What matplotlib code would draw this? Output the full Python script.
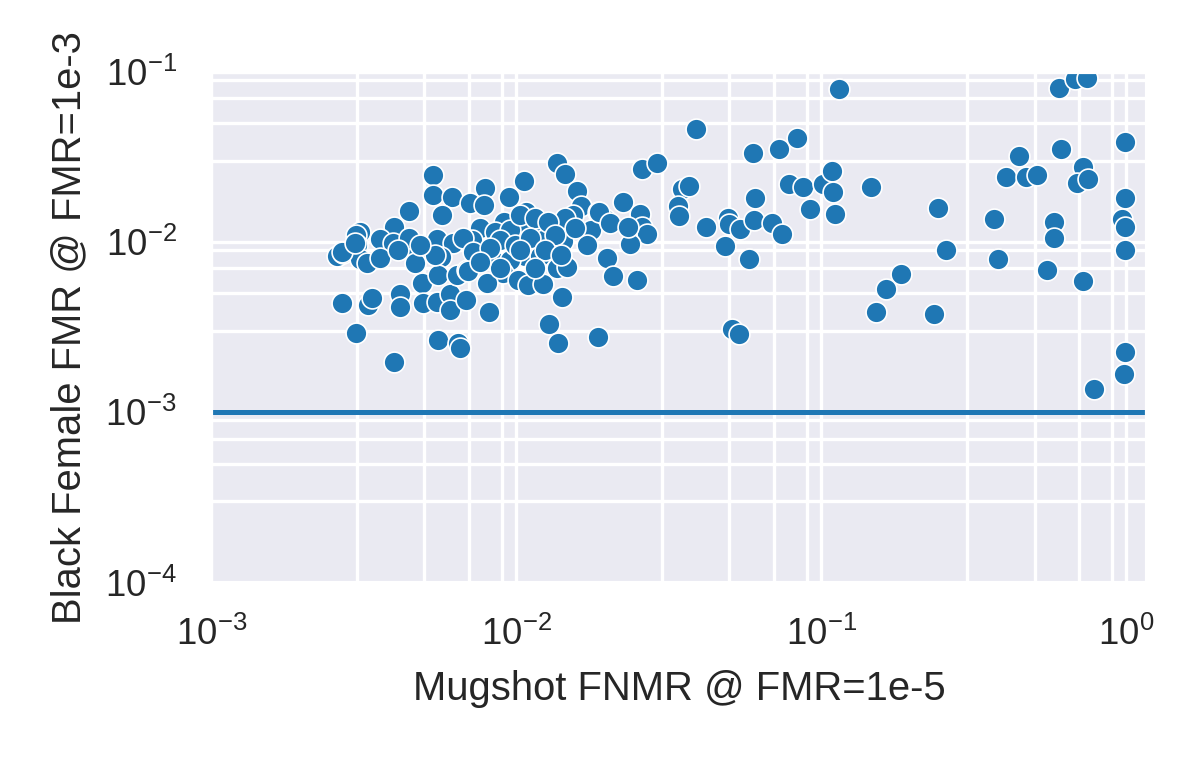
import numpy as np
import matplotlib
matplotlib.use("Agg")
import matplotlib.pyplot as plt
from matplotlib.ticker import LogLocator, NullFormatter
import seaborn as sns

# mugshot FNMR @ FMR=1e-5 (x) and black female FMR @ FMR=1e-3 (y), one entry per algorithm
fnmr_mugshot = [
    2.59e-3, 2.71e-3, 2.69e-3, 2.99e-3, 3.98e-3, 3.27e-3, 3.37e-3, 4.17e-3, 4.17e-3, 4.92e-3,
    4.95e-3, 5.51e-3, 5.55e-3, 6.45e-3, 6.55e-3, 6.08e-3, 6.08e-3, 6.86e-3, 5.35e-3, 5.35e-3,
    6.17e-3, 4.46e-3, 5.72e-3, 3.98e-3, 3.08e-3, 2.99e-3, 3.58e-3, 3.95e-3, 3.01e-3, 3.08e-3,
    3.25e-3, 3.58e-3, 4.67e-3, 4.67e-3, 5.51e-3, 6.21e-3, 5.68e-3, 4.46e-3, 6.90e-3, 5.55e-3,
    6.41e-3, 6.90e-3, 2.69e-3, 2.96e-3, 5.42e-3, 4.84e-3, 4.10e-3,
    1.36e-2, 1.45e-2, 1.06e-2, 7.91e-3, 9.48e-3, 1.58e-2, 1.63e-2, 7.06e-3, 7.85e-3, 1.86e-2,
    1.96e-2, 1.08e-2, 1.54e-2, 1.45e-2, 9.14e-3, 7.62e-3, 1.10e-2, 1.24e-2, 1.76e-2, 8.53e-3,
    9.55e-3, 7.18e-3, 1.42e-2, 1.71e-2, 1.22e-2, 6.70e-3, 7.23e-3, 8.41e-3, 1.07e-2, 1.20e-2,
    9.55e-3, 1.36e-2, 1.47e-2, 1.99e-2, 2.07e-2, 6.96e-3, 9.06e-3, 1.01e-2, 1.09e-2, 1.22e-2,
    8.04e-3, 1.41e-2, 8.15e-3, 1.28e-2, 1.37e-2, 1.86e-2,
    1.03e-2, 1.15e-2, 1.27e-2, 8.87e-3, 9.93e-3, 1.11e-2, 1.34e-2, 1.56e-2, 8.22e-3, 1.03e-2,
    1.24e-2, 8.87e-3, 1.15e-2, 7.62e-3, 1.40e-2,
    2.23e-2, 1.87e-2, 2.03e-2, 2.55e-2, 2.59e-2, 2.69e-2, 2.36e-2, 2.33e-2, 2.49e-2, 2.59e-2,
    2.90e-2, 3.89e-2, 3.50e-2, 3.69e-2, 3.40e-2, 3.42e-2, 4.20e-2, 4.95e-2, 4.99e-2, 5.42e-2,
    6.03e-2, 6.90e-2, 7.45e-2, 4.84e-2, 5.81e-2, 6.08e-2, 5.11e-2, 5.38e-2, 5.98e-2, 7.28e-2,
    8.34e-2, 7.85e-2, 8.73e-2, 9.20e-2, 0.1016, 0.108, 0.109, 0.111, 0.114,
    0.603, 0.681, 0.745, 0.993, 0.612, 0.443, 0.404, 0.470, 0.511, 0.718,
    0.690, 0.750, 0.146, 0.993, 0.242, 0.369, 0.581, 0.577, 0.964, 0.993,
    0.993, 0.257, 0.378, 0.551, 0.723, 0.182, 0.163, 0.151, 0.234, 0.993,
    0.984, 0.785,
]
fmr_black_female = [
    8.32e-3, 8.65e-3, 4.40e-3, 2.93e-3, 1.98e-3, 4.28e-3, 4.71e-3, 4.97e-3, 4.17e-3, 5.77e-3,
    4.40e-3, 4.46e-3, 2.67e-3, 2.56e-3, 2.39e-3, 4.97e-3, 4.00e-3, 4.58e-3, 2.48e-2, 1.90e-2,
    1.85e-2, 1.53e-2, 1.45e-2, 1.23e-2, 1.15e-2, 1.10e-2, 1.04e-2, 9.91e-3, 9.64e-3, 7.98e-3,
    7.55e-3, 8.09e-3, 8.65e-3, 7.55e-3, 1.04e-2, 9.91e-3, 8.20e-3, 1.06e-2, 1.03e-2, 6.43e-3,
    6.43e-3, 6.87e-3, 8.77e-3, 9.91e-3, 8.41e-3, 9.64e-3, 9.02e-3,
    2.92e-2, 2.52e-2, 2.29e-2, 2.08e-2, 1.85e-2, 2.00e-2, 1.63e-2, 1.70e-2, 1.66e-2, 1.51e-2,
    1.37e-2, 1.51e-2, 1.45e-2, 1.39e-2, 1.32e-2, 1.21e-2, 1.25e-2, 1.18e-2, 1.18e-2, 1.15e-2,
    1.18e-2, 1.03e-2, 1.02e-2, 9.64e-3, 1.03e-2, 1.06e-2, 8.77e-3, 7.87e-3, 8.32e-3, 8.32e-3,
    7.87e-3, 7.06e-3, 7.16e-3, 8.09e-3, 6.34e-3, 6.78e-3, 6.61e-3, 6.01e-3, 5.61e-3, 5.69e-3,
    5.77e-3, 4.77e-3, 3.90e-3, 3.31e-3, 2.56e-3, 2.78e-3,
    1.45e-2, 1.39e-2, 1.32e-2, 1.03e-2, 9.64e-3, 1.06e-2, 1.10e-2, 1.21e-2, 9.27e-3, 9.02e-3,
    9.02e-3, 7.06e-3, 7.06e-3, 7.66e-3, 8.41e-3,
    1.73e-2, 1.51e-2, 1.30e-2, 1.47e-2, 1.23e-2, 1.12e-2, 9.77e-3, 1.23e-2, 6.01e-3, 2.69e-2,
    2.92e-2, 4.62e-2, 2.06e-2, 2.14e-2, 1.63e-2, 1.43e-2, 1.23e-2, 1.39e-2, 1.28e-2, 1.20e-2,
    1.35e-2, 1.30e-2, 1.12e-2, 9.51e-3, 7.98e-3, 1.82e-2, 3.10e-3, 2.90e-3, 3.34e-2, 3.53e-2,
    4.09e-2, 2.20e-2, 2.11e-2, 1.57e-2, 2.20e-2, 2.62e-2, 1.97e-2, 1.47e-2, 7.94e-2,
    8.05e-2, 9.10e-2, 9.22e-2, 3.88e-2, 3.53e-2, 3.21e-2, 2.42e-2, 2.42e-2, 2.48e-2, 2.77e-2,
    2.23e-2, 2.35e-2, 2.11e-2, 1.82e-2, 1.59e-2, 1.37e-2, 1.32e-2, 1.06e-2, 1.37e-2, 1.23e-2,
    9.02e-3, 9.02e-3, 7.98e-3, 6.87e-3, 5.93e-3, 6.52e-3, 5.32e-3, 3.90e-3, 3.79e-3, 2.27e-3,
    1.69e-3, 1.38e-3,
]
fmr_threshold = 1e-3

sns.set_theme(style="darkgrid", context="paper", palette="tab10")
plt.rcParams["font.family"] = ["Liberation Sans", "DejaVu Sans"]

fig, ax = plt.subplots(figsize=(4, 2.6), dpi=300)
fig.subplots_adjust(left=0.176, right=0.956, top=0.908, bottom=0.253)

sns.scatterplot(x=fnmr_mugshot, y=fmr_black_female, ax=ax, s=25)
ax.axhline(fmr_threshold)

ax.set_xscale("log")
ax.set_yscale("log")
ax.set_xlim(1e-3, 1.17)
ax.set_ylim(1e-4, 1e-1)

# only every other minor line shows up in the original
for axis in (ax.xaxis, ax.yaxis):
    axis.set_minor_locator(LogLocator(base=10, subs=(3, 5, 7, 9)))
    axis.set_minor_formatter(NullFormatter())
ax.grid(True, which="both")

ax.set_xlabel("Mugshot FNMR @ FMR=1e-5")
ax.set_ylabel("Black Female FMR @ FMR=1e-3")

fig.savefig("out.png", dpi=300)
